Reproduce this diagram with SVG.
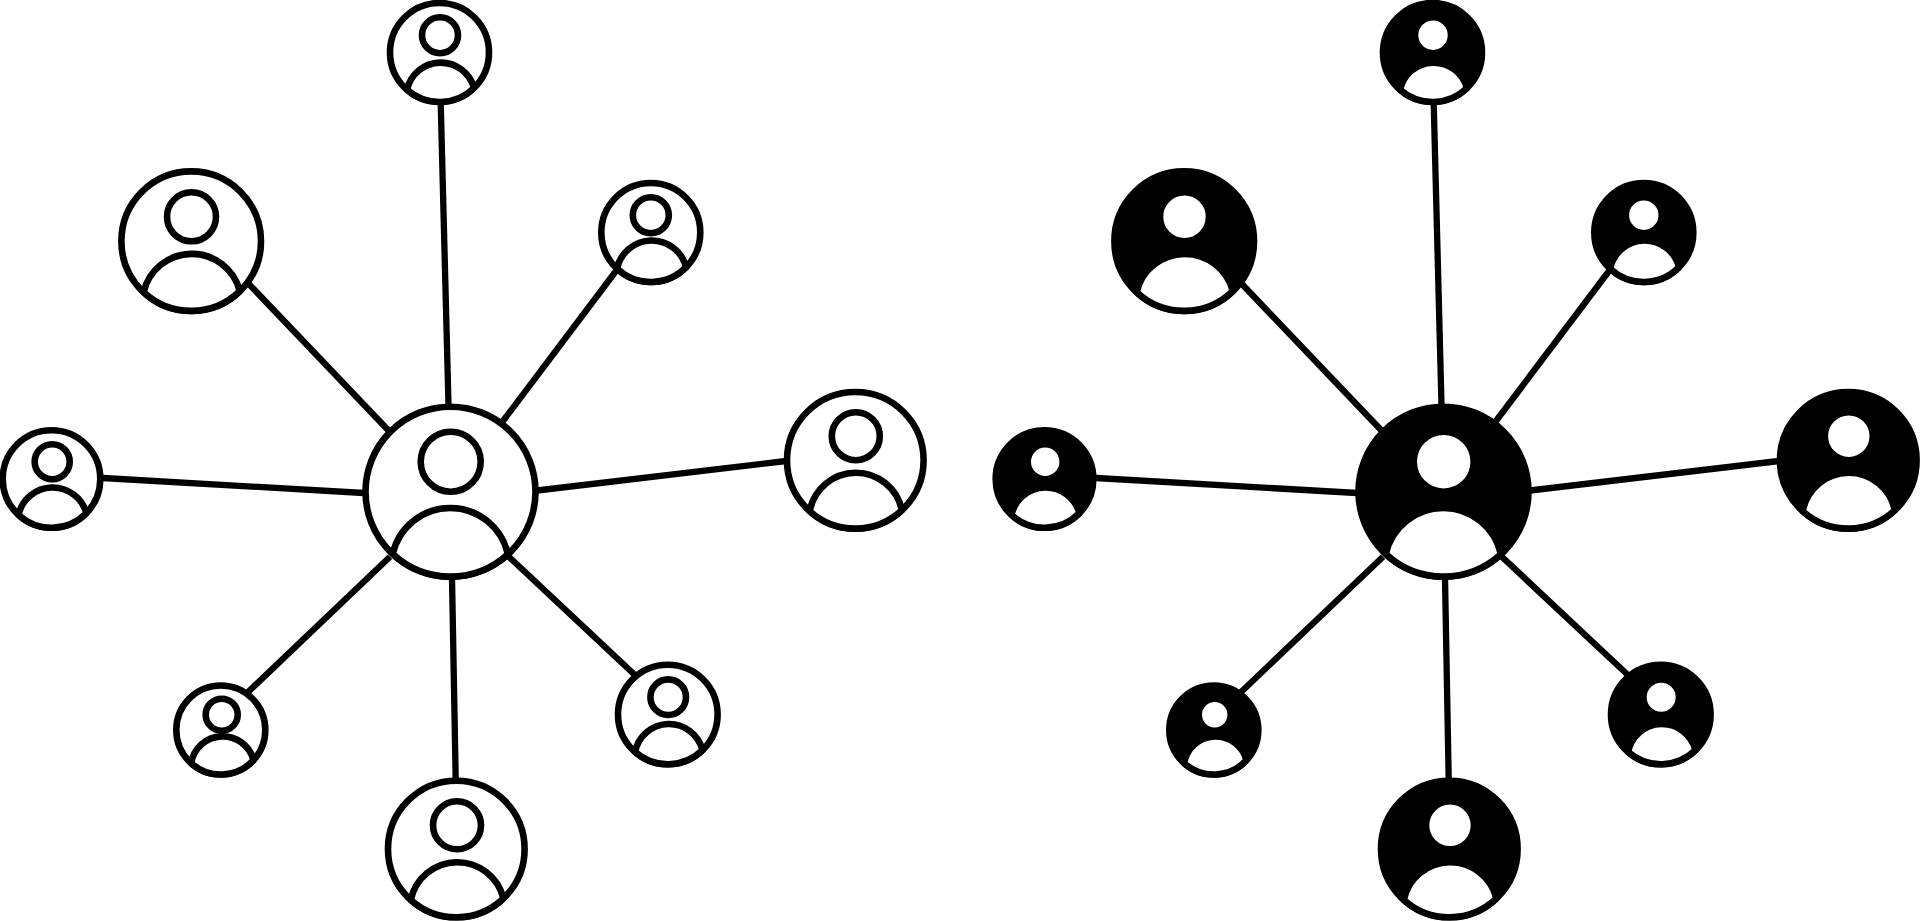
<svg xmlns="http://www.w3.org/2000/svg" width="1920" height="921" viewBox="0 0 1920 921">
<style>
.bg{fill:#fff}
.links line{stroke:#000;stroke-width:6.3;fill:none}
.node circle,.node path{stroke:#000;stroke-width:6.6;fill:#fff;stroke-linejoin:round}
.solid .ring{fill:#000}
</style>
<rect class="bg" width="1920" height="921"/>
<g id="connectors" class="links">
<g id="links-outline">
<line x1="440.7" y1="103" x2="448.5" y2="405"/>
<line x1="616" y1="271" x2="503" y2="421"/>
<line x1="247" y1="282" x2="389" y2="431"/>
<line x1="103" y1="478" x2="364" y2="493"/>
<line x1="537" y1="490.5" x2="786" y2="461"/>
<line x1="247.3" y1="692.7" x2="390" y2="556.7"/>
<line x1="508" y1="556" x2="636" y2="676"/>
<line x1="452" y1="578" x2="455.7" y2="780"/>
</g>
<g id="links-solid" transform="translate(993 0)">
<line x1="440.7" y1="103" x2="448.5" y2="405"/>
<line x1="616" y1="271" x2="503" y2="421"/>
<line x1="247" y1="282" x2="389" y2="431"/>
<line x1="103" y1="478" x2="364" y2="493"/>
<line x1="537" y1="490.5" x2="786" y2="461"/>
<line x1="247.3" y1="692.7" x2="390" y2="556.7"/>
<line x1="508" y1="556" x2="636" y2="676"/>
<line x1="452" y1="578" x2="455.7" y2="780"/>
</g>
</g>
<g id="outline-hub" class="node"><circle class="ring" cx="450.5" cy="491.7" r="85"/><circle cx="450.7" cy="461.7" r="30"/><path d="M392.7 554A59 59 0 0 1 507.9 554.3A85 85 0 0 1 392.7 554Z"/></g>
<g id="outline-top" class="node"><circle class="ring" cx="439.5" cy="52.5" r="49.5"/><circle cx="440" cy="35.2" r="18"/><path d="M407 89.8A34.5 34.5 0 0 1 474 88A49.5 49.5 0 0 1 407 89.8Z"/></g>
<g id="outline-upper-left" class="node"><circle class="ring" cx="191.2" cy="241.2" r="69.8"/><circle cx="191.5" cy="216.8" r="24.5"/><path d="M143.6 292.2A49.5 49.5 0 0 1 239.8 291.2A69.8 69.8 0 0 1 143.6 292.2Z"/></g>
<g id="outline-upper-right" class="node"><circle class="ring" cx="650.8" cy="232.5" r="49.5"/><circle cx="650.8" cy="215.2" r="18"/><path d="M617 268.7A35.5 35.5 0 0 1 686.1 267.1A49.5 49.5 0 0 1 617 268.7Z"/></g>
<g id="outline-left" class="node"><circle class="ring" cx="51.5" cy="479" r="48.8"/><circle cx="52.2" cy="461.7" r="17.5"/><path d="M18.5 514.9A35 35 0 0 1 86.4 513.1A48.8 48.8 0 0 1 18.5 514.9Z"/></g>
<g id="outline-right" class="node"><circle class="ring" cx="855.3" cy="460.3" r="68.3"/><circle cx="855.8" cy="436.2" r="24"/><path d="M809.7 511.1A47 47 0 0 1 901.9 510.2A68.3 68.3 0 0 1 809.7 511.1Z"/></g>
<g id="outline-lower-left" class="node"><circle class="ring" cx="220.8" cy="730" r="44.5"/><circle cx="221.7" cy="714.7" r="16"/><path d="M191.1 763.2A32 32 0 0 1 253.6 760.1A44.5 44.5 0 0 1 191.1 763.2Z"/></g>
<g id="outline-lower-right" class="node"><circle class="ring" cx="667.8" cy="714.5" r="49.8"/><circle cx="668.2" cy="697.2" r="17.8"/><path d="M635.1 752.1A34.5 34.5 0 0 1 702.5 750.2A49.8 49.8 0 0 1 635.1 752.1Z"/></g>
<g id="outline-bottom" class="node"><circle class="ring" cx="456.3" cy="849" r="68.3"/><circle cx="457" cy="825.3" r="24"/><path d="M410.8 899.9A47.5 47.5 0 0 1 503.4 898.4A68.3 68.3 0 0 1 410.8 899.9Z"/></g>
<g id="solid-hub" class="node solid" transform="translate(993 0)"><circle class="ring" cx="450.5" cy="491.7" r="85"/><circle cx="450.7" cy="461.7" r="30"/><path d="M392.7 554A59 59 0 0 1 507.9 554.3A85 85 0 0 1 392.7 554Z"/></g>
<g id="solid-top" class="node solid" transform="translate(993 0)"><circle class="ring" cx="439.5" cy="52.5" r="49.5"/><circle cx="440" cy="35.2" r="18"/><path d="M407 89.8A34.5 34.5 0 0 1 474 88A49.5 49.5 0 0 1 407 89.8Z"/></g>
<g id="solid-upper-left" class="node solid" transform="translate(993 0)"><circle class="ring" cx="191.2" cy="241.2" r="69.8"/><circle cx="191.5" cy="216.8" r="24.5"/><path d="M143.6 292.2A49.5 49.5 0 0 1 239.8 291.2A69.8 69.8 0 0 1 143.6 292.2Z"/></g>
<g id="solid-upper-right" class="node solid" transform="translate(993 0)"><circle class="ring" cx="650.8" cy="232.5" r="49.5"/><circle cx="650.8" cy="215.2" r="18"/><path d="M617 268.7A35.5 35.5 0 0 1 686.1 267.1A49.5 49.5 0 0 1 617 268.7Z"/></g>
<g id="solid-left" class="node solid" transform="translate(993 0)"><circle class="ring" cx="51.5" cy="479" r="48.8"/><circle cx="52.2" cy="461.7" r="17.5"/><path d="M18.5 514.9A35 35 0 0 1 86.4 513.1A48.8 48.8 0 0 1 18.5 514.9Z"/></g>
<g id="solid-right" class="node solid" transform="translate(993 0)"><circle class="ring" cx="855.3" cy="460.3" r="68.3"/><circle cx="855.8" cy="436.2" r="24"/><path d="M809.7 511.1A47 47 0 0 1 901.9 510.2A68.3 68.3 0 0 1 809.7 511.1Z"/></g>
<g id="solid-lower-left" class="node solid" transform="translate(993 0)"><circle class="ring" cx="220.8" cy="730" r="44.5"/><circle cx="221.7" cy="714.7" r="16"/><path d="M191.1 763.2A32 32 0 0 1 253.6 760.1A44.5 44.5 0 0 1 191.1 763.2Z"/></g>
<g id="solid-lower-right" class="node solid" transform="translate(993 0)"><circle class="ring" cx="667.8" cy="714.5" r="49.8"/><circle cx="668.2" cy="697.2" r="17.8"/><path d="M635.1 752.1A34.5 34.5 0 0 1 702.5 750.2A49.8 49.8 0 0 1 635.1 752.1Z"/></g>
<g id="solid-bottom" class="node solid" transform="translate(993 0)"><circle class="ring" cx="456.3" cy="849" r="68.3"/><circle cx="457" cy="825.3" r="24"/><path d="M410.8 899.9A47.5 47.5 0 0 1 503.4 898.4A68.3 68.3 0 0 1 410.8 899.9Z"/></g>
</svg>
